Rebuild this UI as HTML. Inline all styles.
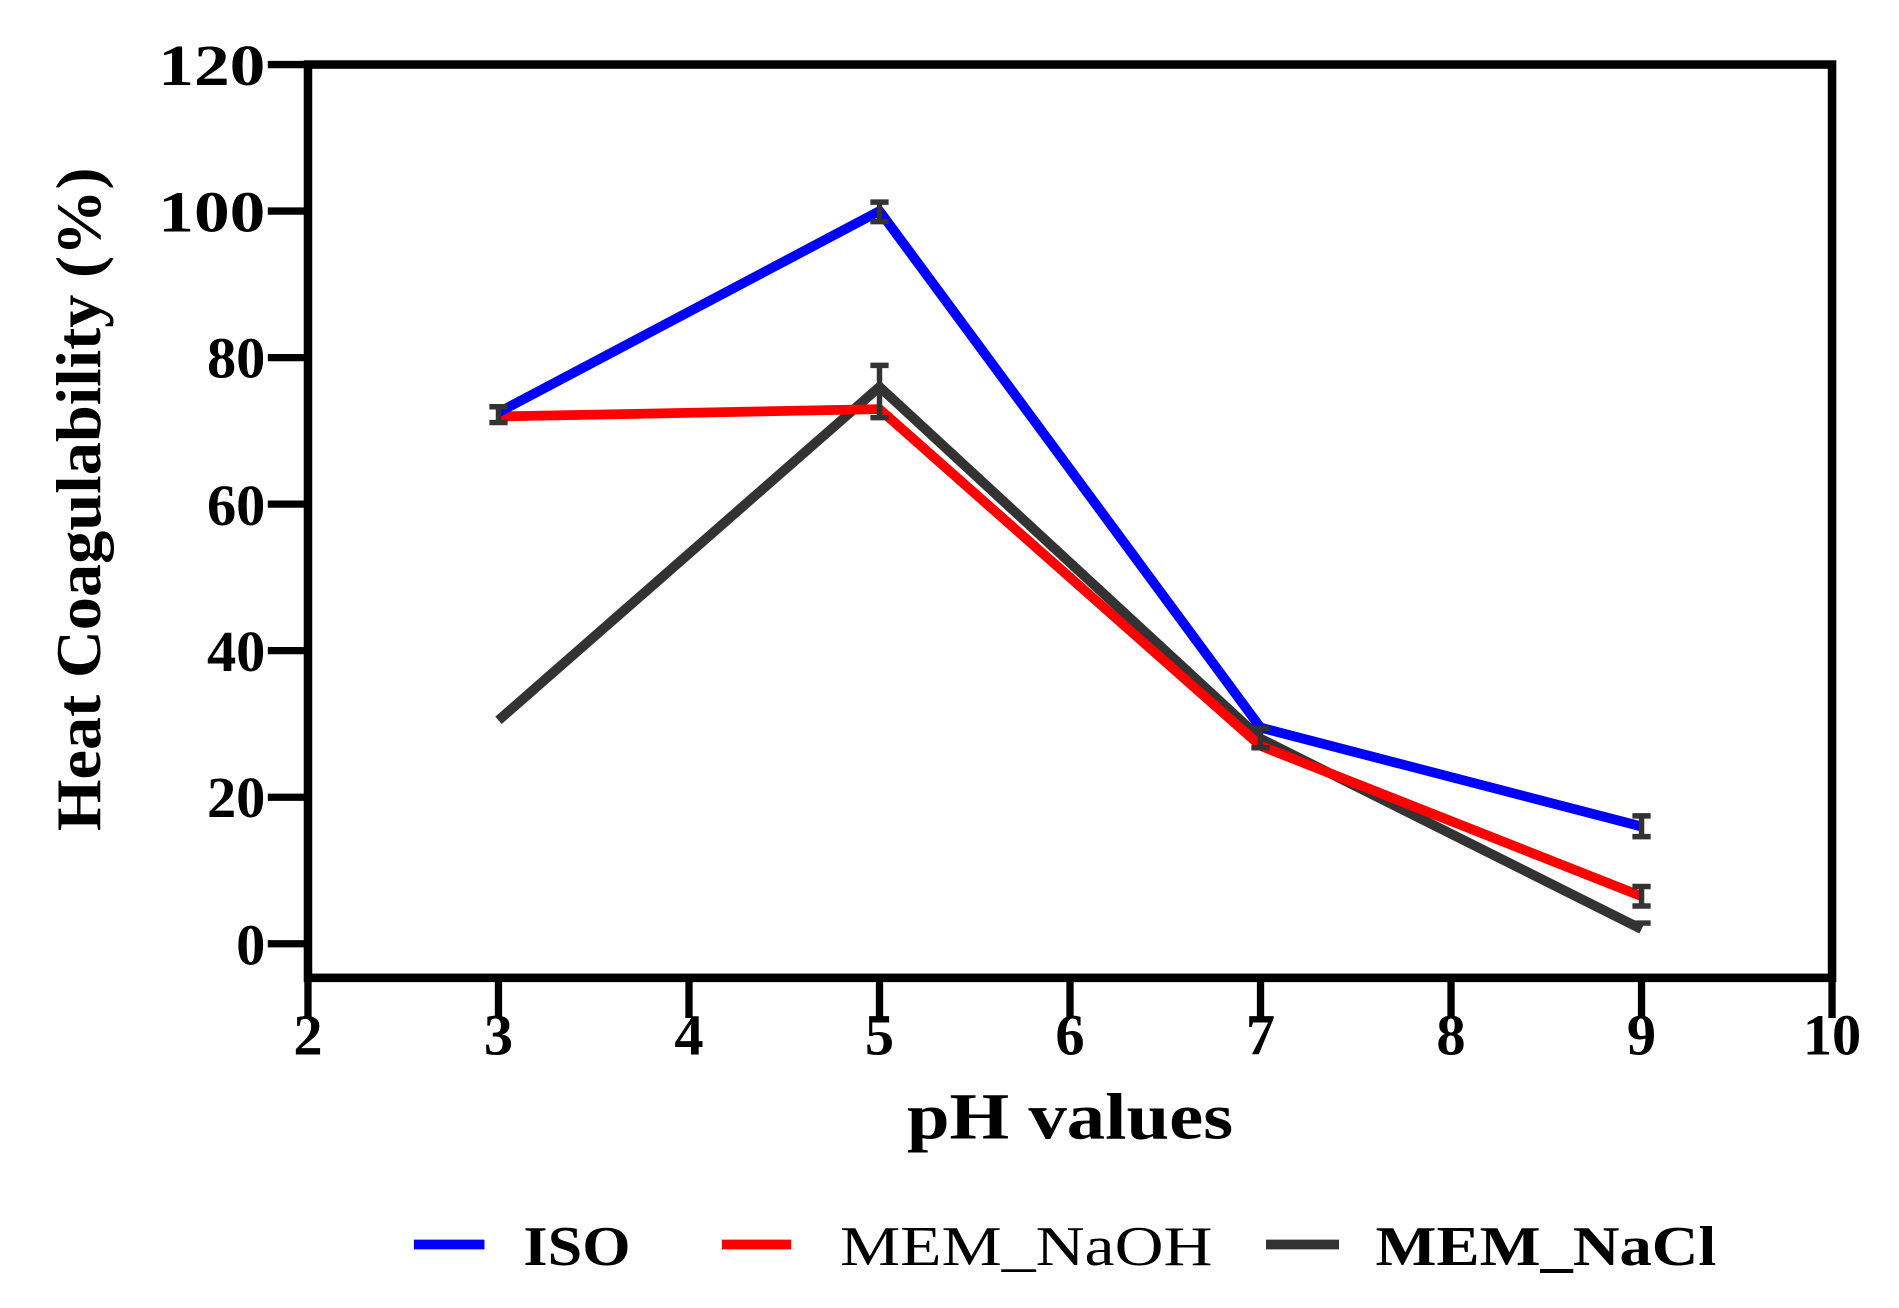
<!DOCTYPE html>
<html><head><style>html,body{margin:0;padding:0;background:#fff;}</style></head>
<body>
<svg width="1899" height="1303" viewBox="0 0 1560 1070" preserveAspectRatio="none" xmlns="http://www.w3.org/2000/svg" font-family="Liberation Serif, serif" font-weight="bold">
<rect width="1560" height="1070" fill="#fff"/>
<g stroke="#000" stroke-width="6">
<rect x="253" y="53" width="1252" height="750" fill="none" stroke-width="7"/>
<line x1="220" y1="53" x2="253" y2="53"/><line x1="220" y1="173.3" x2="253" y2="173.3"/><line x1="220" y1="293.7" x2="253" y2="293.7"/><line x1="220" y1="414" x2="253" y2="414"/><line x1="220" y1="534.3" x2="253" y2="534.3"/><line x1="220" y1="654.7" x2="253" y2="654.7"/><line x1="220" y1="775" x2="253" y2="775"/>
<line x1="253" y1="803" x2="253" y2="836"/><line x1="409.5" y1="803" x2="409.5" y2="836"/><line x1="566" y1="803" x2="566" y2="836"/><line x1="722.5" y1="803" x2="722.5" y2="836"/><line x1="879" y1="803" x2="879" y2="836"/><line x1="1035.5" y1="803" x2="1035.5" y2="836"/><line x1="1192" y1="803" x2="1192" y2="836"/><line x1="1348.5" y1="803" x2="1348.5" y2="836"/><line x1="1505" y1="803" x2="1505" y2="836"/>
</g>
<g font-size="48" text-anchor="end" fill="#000">
<text x="218" y="70" textLength="88" lengthAdjust="spacingAndGlyphs">120</text><text x="218" y="190" textLength="88" lengthAdjust="spacingAndGlyphs">100</text><text x="218" y="310">80</text><text x="218" y="431">60</text><text x="218" y="551">40</text><text x="218" y="671">20</text><text x="218" y="792">0</text>
</g>
<g font-size="48" text-anchor="middle" fill="#000">
<text x="253" y="866">2</text><text x="409.5" y="866">3</text><text x="566" y="866">4</text><text x="722.5" y="866">5</text><text x="879" y="866">6</text><text x="1035.5" y="866">7</text><text x="1192" y="866">8</text><text x="1348.5" y="866">9</text><text x="1505" y="866">10</text>
<text x="879" y="935" font-size="54" textLength="268" lengthAdjust="spacingAndGlyphs">pH values</text>
<text transform="translate(82,410) rotate(-90)" font-size="52" textLength="545" lengthAdjust="spacingAndGlyphs">Heat Coagulability (%)</text>
</g>
<g fill="none" stroke-width="8" stroke-linejoin="round">
<polyline stroke="#333" points="409.5,591.5 722.5,317.7 1035.5,606.5 1348.5,763"/>
<polyline stroke="#ff0000" points="409.5,342 722.5,336 1035.5,612.5 1348.5,736"/>
<polyline stroke="#0000ff" points="409.5,338.7 722.5,173.3 1035.5,597.5 1348.5,678.7"/>
</g>
<g stroke="#333" stroke-width="4.5">
<line x1="722.5" y1="166" x2="722.5" y2="182"/><line x1="715" y1="166" x2="730" y2="166"/><line x1="715" y1="182" x2="730" y2="182"/>
<line x1="722.5" y1="300" x2="722.5" y2="343"/><line x1="715" y1="300" x2="730" y2="300"/><line x1="715" y1="343" x2="730" y2="343"/>
<line x1="402" y1="334" x2="417" y2="334"/><line x1="402" y1="347" x2="417" y2="347"/><line x1="409.5" y1="334" x2="409.5" y2="347"/>
<line x1="1028" y1="598" x2="1043" y2="598"/><line x1="1028" y1="614" x2="1043" y2="614"/><line x1="1035.5" y1="598" x2="1035.5" y2="614"/>
<line x1="1341" y1="670" x2="1356" y2="670"/><line x1="1341" y1="687" x2="1356" y2="687"/><line x1="1348.5" y1="670" x2="1348.5" y2="687"/>
<line x1="1341" y1="728" x2="1356" y2="728"/><line x1="1341" y1="744" x2="1356" y2="744"/><line x1="1348.5" y1="728" x2="1348.5" y2="744"/>
<line x1="1341" y1="758" x2="1356" y2="758"/>
</g>
<g stroke-width="8">
<line x1="340" y1="1022" x2="398" y2="1022" stroke="#0000ff"/>
<line x1="593" y1="1022" x2="650" y2="1022" stroke="#ff0000"/>
<line x1="1040" y1="1022" x2="1100" y2="1022" stroke="#333"/>
</g>
<g font-size="46" fill="#000">
<text x="430" y="1039" textLength="88" lengthAdjust="spacingAndGlyphs">ISO</text>
<text x="690" y="1039" font-weight="normal" textLength="306" lengthAdjust="spacingAndGlyphs">MEM_NaOH</text>
<text x="1130" y="1039" textLength="280" lengthAdjust="spacingAndGlyphs">MEM_NaCl</text>
</g>
</svg>
</body></html>
